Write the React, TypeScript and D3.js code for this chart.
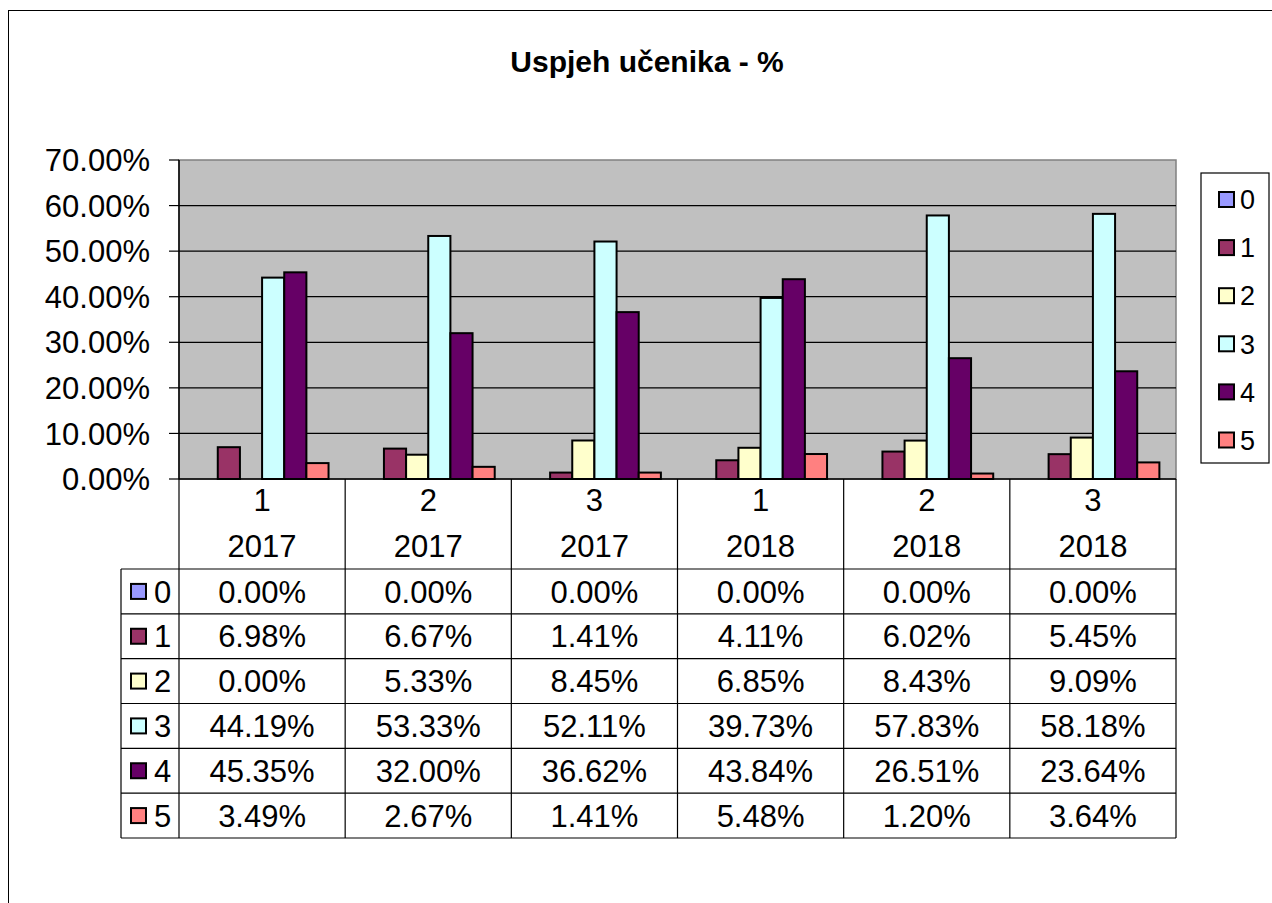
import React from "react";
import * as d3 from "d3";

const title = "Uspjeh učenika - %";
const quarters = ["1", "2", "3", "1", "2", "3"];
const years = ["2017", "2017", "2017", "2018", "2018", "2018"];
const seriesNames = ["0", "1", "2", "3", "4", "5"];
const seriesColors = ["#9999FF", "#993366", "#FFFFCC", "#CCFFFF", "#660066", "#FF8080"];
const s0 = [0.0, 0.0, 0.0, 0.0, 0.0, 0.0];
const s1 = [6.98, 6.67, 1.41, 4.11, 6.02, 5.45];
const s2 = [0.0, 5.33, 8.45, 6.85, 8.43, 9.09];
const s3 = [44.19, 53.33, 52.11, 39.73, 57.83, 58.18];
const s4 = [45.35, 32.0, 36.62, 43.84, 26.51, 23.64];
const s5 = [3.49, 2.67, 1.41, 5.48, 1.2, 3.64];
const seriesValues = [s0, s1, s2, s3, s4, s5];
const yTicks = [0, 10, 20, 30, 40, 50, 60, 70];

const FONT = "'Liberation Sans', Arial, sans-serif";

export default function App() {
  const W = 1272, H = 903;
  const plot = { left: 179, right: 1176, top: 160, bottom: 479 };
  const y = d3.scaleLinear().domain([0, 70]).range([plot.bottom, plot.top]);
  const cats = d3.range(quarters.length).map(String);
  const x = d3.scaleBand().domain(cats).range([plot.left, plot.right]).padding(0);
  const inner = d3.scaleBand().domain(seriesNames).range([0, x.bandwidth()]).paddingInner(0).paddingOuter(0.75);
  const fmt = (v: number) => v.toFixed(2) + "%";
  const FS = 31;

  const tableTop = 569;
  const rowH = (838 - tableTop) / seriesNames.length;
  const tableLeft = 121;
  const boundaries = cats.map((c) => x(c)!).concat([plot.right]);

  return (
    <svg width={W} height={H} style={{ position: "absolute", left: 0, top: 0, background: "#fff" }} fontFamily={FONT}>
      <rect x={8.5} y={10.5} width={1400} height={1000} fill="#fff" stroke="#000" strokeWidth={1} />
      <text x={647} y={72} textAnchor="middle" fontSize={30} fontWeight="bold" fill="#000">{title}</text>

      {/* plot area */}
      <rect x={plot.left} y={plot.top} width={plot.right - plot.left} height={plot.bottom - plot.top} fill="#C0C0C0" stroke="#808080" strokeWidth={1.5} />
      {yTicks.map((t) => (
        <g key={t}>
          {t > 0 && t < 70 && (
            <line x1={plot.left} x2={plot.right} y1={y(t)} y2={y(t)} stroke="#000" strokeWidth={1.2} />
          )}
          <line x1={169} x2={plot.left} y1={y(t)} y2={y(t)} stroke="#000" strokeWidth={1.2} />
          <text x={150} y={y(t)} dy="0.36em" textAnchor="end" fontSize={FS} fill="#000">{t.toFixed(2) + "%"}</text>
        </g>
      ))}
      <line x1={plot.left} x2={plot.left} y1={plot.top} y2={plot.bottom} stroke="#000" strokeWidth={1.5} />

      {/* bars */}
      {cats.map((c, ci) => (
        <g key={c} transform={`translate(${x(c)},0)`}>
          {seriesNames.map((s, si) => {
            const v = seriesValues[si][ci];
            if (v <= 0) return null;
            return (
              <rect key={s} x={inner(s)!} y={y(v)} width={inner.bandwidth()} height={plot.bottom - y(v)}
                fill={seriesColors[si]} stroke="#000" strokeWidth={2} />
            );
          })}
        </g>
      ))}
      <line x1={plot.left} x2={plot.right} y1={plot.bottom} y2={plot.bottom} stroke="#000" strokeWidth={1.5} />

      {/* data table */}
      {boundaries.map((bx, i) => (
        <line key={i} x1={bx} x2={bx} y1={plot.bottom} y2={838} stroke="#000" strokeWidth={1.2} />
      ))}
      <line x1={tableLeft} x2={tableLeft} y1={tableTop} y2={838} stroke="#000" strokeWidth={1.2} />
      {d3.range(seriesNames.length + 1).map((r) => (
        <line key={r} x1={tableLeft} x2={plot.right} y1={tableTop + r * rowH} y2={tableTop + r * rowH} stroke="#000" strokeWidth={1.2} />
      ))}
      {cats.map((c, ci) => (
        <g key={c}>
          <text x={x(c)! + x.bandwidth() / 2} y={500} dy="0.36em" textAnchor="middle" fontSize={FS}>{quarters[ci]}</text>
          <text x={x(c)! + x.bandwidth() / 2} y={546} dy="0.36em" textAnchor="middle" fontSize={FS}>{years[ci]}</text>
        </g>
      ))}
      {seriesNames.map((s, si) => {
        const cy = tableTop + (si + 0.5) * rowH;
        return (
          <g key={s}>
            <rect x={131} y={cy - 7.5} width={15} height={15} fill={seriesColors[si]} stroke="#000" strokeWidth={2} />
            <text x={154} y={cy} dy="0.36em" fontSize={FS}>{s}</text>
            {cats.map((c, ci) => (
              <text key={c} x={x(c)! + x.bandwidth() / 2} y={cy} dy="0.36em" textAnchor="middle" fontSize={FS}>
                {fmt(seriesValues[si][ci])}
              </text>
            ))}
          </g>
        );
      })}

      {/* legend */}
      <rect x={1201} y={173} width={68} height={290} fill="#fff" stroke="#000" strokeWidth={1.2} />
      {seriesNames.map((s, si) => {
        const cy = 199.5 + si * 48.1;
        return (
          <g key={s}>
            <rect x={1219} y={cy - 7.5} width={15} height={15} fill={seriesColors[si]} stroke="#000" strokeWidth={2} />
            <text x={1240} y={cy} dy="0.36em" fontSize={27}>{s}</text>
          </g>
        );
      })}
    </svg>
  );
}
